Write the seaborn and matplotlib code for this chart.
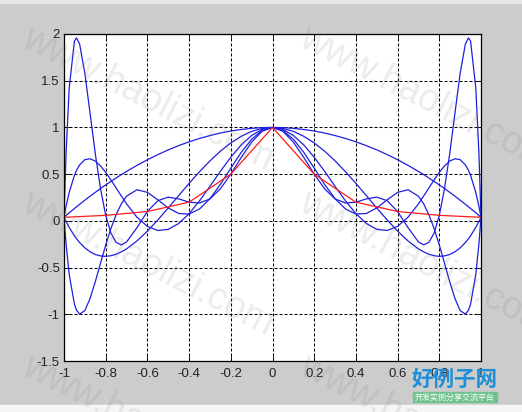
import numpy as np
import pandas as pd
import matplotlib
matplotlib.use('Agg')
import matplotlib.pyplot as plt
import seaborn as sns
from matplotlib.patches import Rectangle

# Sample positions along x (same for every blue curve)
x_pts = [-1.0, -0.99, -0.975, -0.95, -0.94, -0.925, -0.9, -0.875, -0.85, -0.825, -0.8,
         -0.775, -0.75, -0.725, -0.7, -0.65, -0.6, -0.55, -0.5, -0.45, -0.4, -0.35, -0.3,
         -0.25, -0.2, -0.15, -0.1, -0.05, 0.0, 0.05, 0.1, 0.15, 0.2, 0.25, 0.3, 0.35, 0.4,
         0.45, 0.5, 0.55, 0.6, 0.65, 0.7, 0.725, 0.75, 0.775, 0.8, 0.825, 0.85, 0.875, 0.9,
         0.925, 0.94, 0.95, 0.975, 0.99, 1.0]

# Blue curves
p2 = [0.038, 0.058, 0.086, 0.132, 0.150, 0.177, 0.221, 0.264, 0.305, 0.346, 0.385,
      0.422, 0.459, 0.495, 0.529, 0.594, 0.654, 0.709, 0.760, 0.805, 0.846, 0.882, 0.913,
      0.940, 0.962, 0.978, 0.990, 0.998, 1.000, 0.998, 0.990, 0.978, 0.962, 0.940, 0.913,
      0.882, 0.846, 0.805, 0.760, 0.709, 0.654, 0.594, 0.529, 0.495, 0.459, 0.422, 0.385,
      0.346, 0.305, 0.264, 0.221, 0.177, 0.150, 0.132, 0.086, 0.058, 0.038]
p4 = [0.038, -0.007, -0.070, -0.160, -0.191, -0.232, -0.289, -0.331, -0.360, -0.375, -0.380,
      -0.373, -0.357, -0.332, -0.300, -0.215, -0.110, 0.010, 0.138, 0.270, 0.401, 0.526,
      0.642, 0.746, 0.834, 0.905, 0.958, 0.989, 1.000, 0.989, 0.958, 0.905, 0.834, 0.746,
      0.642, 0.526, 0.401, 0.270, 0.138, 0.010, -0.110, -0.215, -0.300, -0.332, -0.357,
      -0.373, -0.380, -0.375, -0.360, -0.331, -0.289, -0.232, -0.191, -0.160, -0.070,
      -0.007, 0.038]
p6 = [0.038, 0.156, 0.305, 0.487, 0.540, 0.599, 0.655, 0.665, 0.640, 0.588, 0.519,
      0.438, 0.352, 0.266, 0.182, 0.039, -0.059, -0.103, -0.091, -0.028, 0.077, 0.214,
      0.370, 0.530, 0.681, 0.813, 0.914, 0.978, 1.000, 0.978, 0.914, 0.813, 0.681, 0.530,
      0.370, 0.214, 0.077, -0.028, -0.091, -0.103, -0.059, 0.039, 0.182, 0.266, 0.352,
      0.438, 0.519, 0.588, 0.640, 0.665, 0.655, 0.599, 0.540, 0.487, 0.305, 0.156, 0.038]
p8 = [0.038, -0.248, -0.574, -0.892, -0.956, -0.998, -0.960, -0.831, -0.652, -0.454, -0.259,
      -0.082, 0.066, 0.182, 0.264, 0.333, 0.305, 0.225, 0.138, 0.079, 0.073, 0.127, 0.237,
      0.390, 0.564, 0.733, 0.874, 0.967, 1.000, 0.967, 0.874, 0.733, 0.564, 0.390, 0.237,
      0.127, 0.073, 0.079, 0.138, 0.225, 0.305, 0.333, 0.264, 0.182, 0.066, -0.082, -0.259,
      -0.454, -0.652, -0.831, -0.960, -0.998, -0.956, -0.892, -0.574, -0.248, 0.038]
p10 = [0.038, 0.726, 1.423, 1.924, 1.959, 1.892, 1.579, 1.152, 0.719, 0.345, 0.059,
       -0.131, -0.231, -0.257, -0.226, -0.073, 0.100, 0.216, 0.254, 0.235, 0.200, 0.191,
       0.235, 0.343, 0.500, 0.679, 0.843, 0.959, 1.000, 0.959, 0.843, 0.679, 0.500, 0.343,
       0.235, 0.191, 0.200, 0.235, 0.254, 0.216, 0.100, -0.073, -0.226, -0.257, -0.231,
       -0.131, 0.059, 0.345, 0.719, 1.152, 1.579, 1.892, 1.959, 1.924, 1.423, 0.726, 0.038]

# Red polyline through the nodes
node_x = [-1.0, -0.8, -0.6, -0.4, -0.2, 0.0, 0.2, 0.4, 0.6, 0.8, 1.0]
node_y = [0.038, 0.059, 0.100, 0.200, 0.500, 1.000, 0.500, 0.200, 0.100, 0.059, 0.038]

x_ticks = [-1, -0.8, -0.6, -0.4, -0.2, 0, 0.2, 0.4, 0.6, 0.8, 1]
x_labels = ['-1', '-0.8', '-0.6', '-0.4', '-0.2', '0', '0.2', '0.4', '0.6', '0.8', '1']
y_ticks = [-1.5, -1, -0.5, 0, 0.5, 1, 1.5, 2]
y_labels = ['-1.5', '-1', '-0.5', '0', '0.5', '1', '1.5', '2']

# Long-form table for seaborn
frames = []
for name, ys in [('p2', p2), ('p4', p4), ('p6', p6), ('p8', p8), ('p10', p10)]:
    frames.append(pd.DataFrame({'x': x_pts, 'y': ys, 'curve': name}))
frames.append(pd.DataFrame({'x': node_x, 'y': node_y, 'curve': 'f'}))
df = pd.concat(frames, ignore_index=True)
colors = {'p2': '#1f1fe0', 'p4': '#1f1fe0', 'p6': '#1f1fe0', 'p8': '#1f1fe0',
          'p10': '#1f1fe0', 'f': '#ff1a1a'}

fig = plt.figure(figsize=(5.22, 4.12), dpi=100, facecolor='#cccccc')
# light strips at the top and bottom edge of the screenshot
fig.add_artist(Rectangle((0, 1 - 3 / 412), 1, 3 / 412, transform=fig.transFigure,
                         color='#e6e6e6', zorder=0))
fig.add_artist(Rectangle((0, 0), 1, 7 / 412, transform=fig.transFigure,
                         color='#f5f5f5', zorder=0))

ax = fig.add_axes([64 / 522, 51 / 412, 417 / 522, 327 / 412])
ax.set_facecolor('white')

sns.lineplot(data=df, x='x', y='y', hue='curve', palette=colors, estimator=None,
             sort=False, legend=False, linewidth=0.9, ax=ax)

ax.set_xlim(-1, 1)
ax.set_ylim(-1.5, 2)
ax.set_xticks(x_ticks)
ax.set_xticklabels(x_labels)
ax.set_yticks(y_ticks)
ax.set_yticklabels(y_labels)
ax.set_xlabel('')
ax.set_ylabel('')
ax.grid(True, color='black', linestyle=(0, (2.9, 1.9)), linewidth=0.75)
ax.set_axisbelow(True)
ax.tick_params(direction='in', length=4, width=0.6, top=True, right=True,
               labelsize=9.5, colors='black', labelcolor='#222222')
ax.tick_params(axis='x', pad=5)
ax.tick_params(axis='y', pad=3)
for lab in ax.get_xticklabels() + ax.get_yticklabels():
    lab.set_family('Liberation Sans')
for sp in ax.spines.values():
    sp.set_color('black')
    sp.set_linewidth(0.9)

# tiled watermark
for (px, py) in [(20, 45), (297, 45), (20, 210), (297, 210), (20, 373), (297, 373)]:
    fig.text(px / 522, 1 - py / 412, 'www.haolizi.com', fontsize=27, rotation=-27,
             rotation_mode='anchor', ha='left', va='baseline', color='#7a7a7a',
             alpha=0.14, family='Liberation Sans', zorder=10)

# site logo in the lower right corner
fig.text(455 / 522, 1 - 379 / 412, '好例子网', fontsize=15.5, fontweight='bold',
         color='#1c8fd8', ha='center', va='center',
         family=['Noto Sans CJK SC', 'DejaVu Sans'], zorder=11)
fig.add_artist(Rectangle((413 / 522, 1 - 402 / 412), 84 / 522, 10 / 412,
                         transform=fig.transFigure, color='#72c28e', zorder=11))
fig.text(455 / 522, 1 - 397 / 412, '开发实例分享交流平台', fontsize=5.8, color='white',
         ha='center', va='center', family=['Noto Sans CJK SC', 'DejaVu Sans'], zorder=12)

fig.savefig('out.png', dpi=100, facecolor=fig.get_facecolor())
